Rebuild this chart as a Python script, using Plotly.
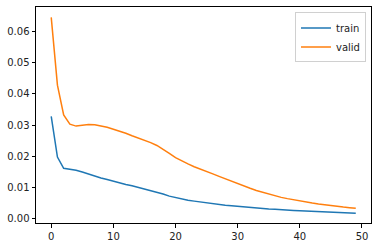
import plotly.graph_objects as go

epochs = list(range(50))
train = [0.0328, 0.0198, 0.0162, 0.0159, 0.0156, 0.0150, 0.0143, 0.0137, 0.0131, 0.0126,
         0.0120, 0.0115, 0.0110, 0.0106, 0.0101, 0.0096, 0.0091, 0.0086, 0.0080, 0.0073,
         0.0068, 0.0064, 0.0060, 0.0057, 0.0054, 0.0051, 0.0049, 0.0046, 0.0044, 0.0042,
         0.0040, 0.0038, 0.0036, 0.0035, 0.0033, 0.0032, 0.0031, 0.0029, 0.0028, 0.0027,
         0.0026, 0.0025, 0.0024, 0.0023, 0.0022, 0.0021, 0.0021, 0.0020, 0.0019, 0.0018]
valid = [0.0645, 0.0428, 0.0333, 0.0303, 0.0297, 0.0300, 0.0302, 0.0301, 0.0298, 0.0293,
         0.0287, 0.0281, 0.0274, 0.0266, 0.0259, 0.0252, 0.0244, 0.0235, 0.0223, 0.0210,
         0.0196, 0.0185, 0.0176, 0.0167, 0.0160, 0.0152, 0.0144, 0.0136, 0.0128, 0.0120,
         0.0112, 0.0105, 0.0098, 0.0091, 0.0085, 0.0079, 0.0074, 0.0069, 0.0065, 0.0061,
         0.0058, 0.0054, 0.0051, 0.0048, 0.0045, 0.0043, 0.0040, 0.0038, 0.0036, 0.0034]

fig = go.Figure()
fig.add_trace(go.Scatter(x=epochs, y=train, mode="lines", name="train",
                         line=dict(color="#1f77b4", width=1.5)))
fig.add_trace(go.Scatter(x=epochs, y=valid, mode="lines", name="valid",
                         line=dict(color="#ff7f0e", width=1.5)))

axis_common = dict(showline=True, linecolor="black", linewidth=1, mirror=True,
                   ticks="outside", ticklen=3.5, tickwidth=0.8, tickcolor="black",
                   showgrid=False, zeroline=False,
                   tickfont=dict(family="DejaVu Sans", size=10, color="#222"))

fig.update_layout(
    width=378, height=248,
    margin=dict(l=36, r=7, t=6, b=24),
    paper_bgcolor="white", plot_bgcolor="white",
    xaxis=dict(range=[-2.45, 51.45], tickvals=[0, 10, 20, 30, 40, 50], **axis_common),
    yaxis=dict(range=[-0.0013, 0.0678], tickvals=[0, 0.01, 0.02, 0.03, 0.04, 0.05, 0.06],
               tickformat=".2f", **axis_common),
    legend=dict(x=0.985, y=0.975, xanchor="right", yanchor="top",
                bgcolor="rgba(255,255,255,0.8)", bordercolor="#d0d0d0", borderwidth=1,
                font=dict(family="DejaVu Sans", size=10, color="#222"),
                tracegroupgap=0, itemwidth=30),
    showlegend=True,
)

fig.write_html("out.html")
